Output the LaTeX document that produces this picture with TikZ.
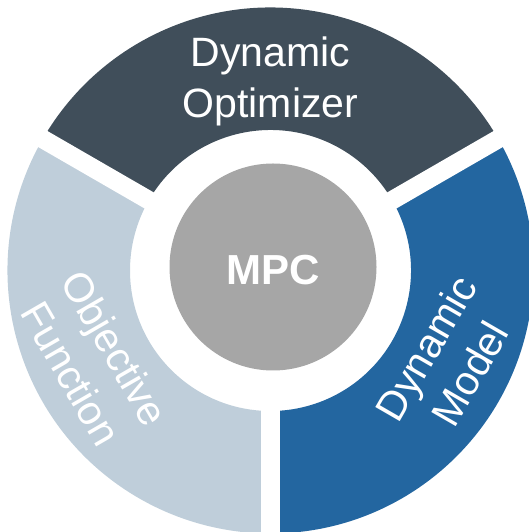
\documentclass[tikz,border=0pt]{standalone}
\usepackage{fontspec}
\setmainfont{Liberation Sans}

\definecolor{optimizer}{HTML}{404E5A}
\definecolor{model}{HTML}{2366A0}
\definecolor{objective}{HTML}{BFCEDA}
\definecolor{mpcgrey}{HTML}{A6A6A6}

\begin{document}
\begin{tikzpicture}[x=1pt,y=1pt,
  segtext/.style={text=white,align=center,font=\fontsize{41}{51}\selectfont}]
\useasboundingbox (0,0) rectangle (529,532);
\clip (0,0) rectangle (529,532);
\coordinate (c) at (270.5,261.5);
\fill[optimizer] ([shift={(30:263)}]c) arc[start angle=30, end angle=150, radius=263]
  -- ([shift={(150:140.5)}]c) arc[start angle=150, end angle=30, radius=140.5] -- cycle;
\fill[objective] ([shift={(150:263)}]c) arc[start angle=150, end angle=270, radius=263]
  -- ([shift={(270:140.5)}]c) arc[start angle=270, end angle=150, radius=140.5] -- cycle;
\fill[model] ([shift={(270:263)}]c) arc[start angle=270, end angle=390, radius=263]
  -- ([shift={(30:140.5)}]c) arc[start angle=30, end angle=-90, radius=140.5] -- cycle;
% white gaps between the segments
\foreach \a in {30,150,270}
  \draw[white, line width=18.5] (c) -- ++(\a:290);
\fill[mpcgrey] (273,265) circle[radius=103.5];
\node[text=white, font=\fontsize{42}{50}\selectfont\bfseries] (mpc) at (272.8,262.3) {MPC};
\node[segtext] (optimizer) at ([shift={(90:189)}]c) {Dynamic\\Optimizer};
\node[segtext, rotate=60] (model) at ([shift={(-27:199)}]c) {Dynamic\\Model};
\node[segtext, rotate=-60] (objective) at ([shift={(207:199)}]c) {Objective\\Function};
\end{tikzpicture}
\end{document}
